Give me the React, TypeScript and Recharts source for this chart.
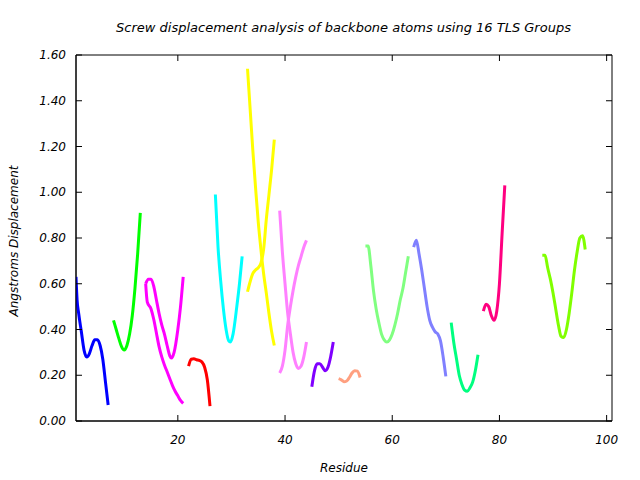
import React from "react";
import { LineChart, Line, XAxis, YAxis, ReferenceArea } from "recharts";

// one pair of arrays per TLS group (residue, screw displacement in Å)
const blueRes = [1, 1.2, 1.5, 2, 2.5, 3, 3.5, 4, 4.5, 5, 5.5, 6, 6.5, 7];
const blueVal = [0.63, 0.53, 0.47, 0.39, 0.31, 0.28, 0.295, 0.33, 0.355, 0.355, 0.33, 0.27, 0.17, 0.07];

const greenRes = [8, 8.5, 9, 9.5, 10, 10.5, 11, 11.5, 12, 12.5, 13];
const greenVal = [0.44, 0.4, 0.36, 0.325, 0.31, 0.33, 0.38, 0.46, 0.58, 0.73, 0.91];

const magentaRes = [14, 14.5, 15, 15.5, 16, 16.5, 17, 17.5, 18, 18.5, 18.8, 19.3, 20, 20.5, 21];
const magentaVal = [0.6, 0.62, 0.62, 0.59, 0.53, 0.47, 0.42, 0.38, 0.33, 0.285, 0.275, 0.3, 0.4, 0.5, 0.63];
const magentaRes2 = [14, 14.3, 15, 15.5, 16, 16.5, 17, 17.5, 18, 18.5, 19, 19.5, 20, 20.5, 21];
const magentaVal2 = [0.6, 0.52, 0.49, 0.445, 0.385, 0.325, 0.28, 0.245, 0.215, 0.185, 0.155, 0.13, 0.11, 0.09, 0.077];

const redRes = [22, 22.5, 23, 23.5, 24, 24.5, 25, 25.5, 26];
const redVal = [0.24, 0.27, 0.272, 0.268, 0.265, 0.258, 0.235, 0.18, 0.065];

const cyanRes = [27, 27.5, 28, 28.5, 29, 29.5, 29.8, 30.3, 31, 31.5, 32];
const cyanVal = [0.99, 0.76, 0.61, 0.49, 0.4, 0.35, 0.345, 0.38, 0.5, 0.6, 0.72];

const yellowRes = [33, 33.5, 34, 34.5, 35, 35.5, 36, 36.5, 37, 37.5, 38];
const yellowVal = [1.54, 1.36, 1.18, 1.02, 0.87, 0.75, 0.645, 0.56, 0.47, 0.39, 0.33];
const yellowVal2 = [0.565, 0.61, 0.645, 0.66, 0.67, 0.69, 0.75, 0.88, 0.99, 1.1, 1.23];

const pinkRes = [39, 39.5, 40, 40.5, 41, 41.5, 42, 42.5, 43, 43.5, 44];
const pinkVal = [0.92, 0.74, 0.6, 0.47, 0.38, 0.3, 0.25, 0.23, 0.24, 0.28, 0.345];
const pinkVal2 = [0.21, 0.24, 0.31, 0.42, 0.5, 0.57, 0.63, 0.68, 0.72, 0.76, 0.79];

const purpleRes = [45, 45.5, 46, 46.5, 47, 47.5, 48, 48.5, 49];
const purpleVal = [0.15, 0.22, 0.25, 0.25, 0.235, 0.22, 0.235, 0.28, 0.345];

const salmonRes = [50, 50.5, 51, 51.5, 52, 52.5, 53, 53.5, 54];
const salmonVal = [0.185, 0.18, 0.172, 0.175, 0.19, 0.21, 0.22, 0.218, 0.19];

const lgreenRes = [55, 55.5, 56, 56.5, 57, 57.5, 58, 58.5, 59, 59.5, 60, 60.5, 61, 61.5, 62, 62.5, 63];
const lgreenVal = [0.765, 0.765, 0.68, 0.57, 0.49, 0.43, 0.38, 0.355, 0.345, 0.355, 0.38, 0.42, 0.47, 0.53, 0.58, 0.65, 0.72];

const lblueRes = [64, 64.5, 65, 65.5, 66, 66.5, 67, 67.5, 68, 68.5, 69, 69.5, 70];
const lblueVal = [0.76, 0.79, 0.73, 0.66, 0.58, 0.5, 0.44, 0.41, 0.39, 0.38, 0.35, 0.28, 0.195];

const springRes = [71, 71.5, 72, 72.5, 73, 73.5, 74, 74.5, 75, 75.5, 76];
const springVal = [0.43, 0.34, 0.27, 0.2, 0.16, 0.135, 0.13, 0.145, 0.17, 0.22, 0.29];

const dpinkRes = [77, 77.5, 78, 78.5, 79, 79.5, 80, 80.5, 81];
const dpinkVal = [0.48, 0.51, 0.5, 0.46, 0.44, 0.48, 0.6, 0.82, 1.03];

const chartRes = [88, 88.5, 89, 89.5, 90, 90.5, 91, 91.5, 92, 92.5, 93, 93.5, 94, 94.5, 95, 95.5, 96];
const chartVal = [0.725, 0.725, 0.67, 0.62, 0.56, 0.49, 0.42, 0.37, 0.365, 0.4, 0.47, 0.56, 0.66, 0.74, 0.8, 0.81, 0.75];

const xTicks = [20, 40, 60, 80, 100];
const yTicks = [0, 0.2, 0.4, 0.6, 0.8, 1.0, 1.2, 1.4, 1.6];

const toPoints = (res: number[], val: number[]) => res.map((r, i) => ({ r, v: val[i] }));

const curves = [
  { color: "#0000ff", data: toPoints(blueRes, blueVal) },
  { color: "#00ff00", data: toPoints(greenRes, greenVal) },
  { color: "#ff00ff", data: toPoints(magentaRes, magentaVal) },
  { color: "#ff00ff", data: toPoints(magentaRes2, magentaVal2) },
  { color: "#ff0000", data: toPoints(redRes, redVal) },
  { color: "#00ffff", data: toPoints(cyanRes, cyanVal) },
  { color: "#ffff00", data: toPoints(yellowRes, yellowVal) },
  { color: "#ffff00", data: toPoints(yellowRes, yellowVal2) },
  { color: "#ff80ff", data: toPoints(pinkRes, pinkVal) },
  { color: "#ff80ff", data: toPoints(pinkRes, pinkVal2) },
  { color: "#8000ff", data: toPoints(purpleRes, purpleVal) },
  { color: "#ffa080", data: toPoints(salmonRes, salmonVal) },
  { color: "#80ff80", data: toPoints(lgreenRes, lgreenVal) },
  { color: "#8080ff", data: toPoints(lblueRes, lblueVal) },
  { color: "#00ff80", data: toPoints(springRes, springVal) },
  { color: "#ff0080", data: toPoints(dpinkRes, dpinkVal) },
  { color: "#80ff00", data: toPoints(chartRes, chartVal) },
];

// plot frame in pixels
const LEFT = 76;
const RIGHT = 612;
const TOP = 55;
const BOTTOM = 421;
const TICK = 6;

const FONT = "'DejaVu Sans', sans-serif";
const textStyle = { fontFamily: FONT, fontStyle: "italic" as const, fontSize: 12, fill: "#000" };

// gnuplot-style ticks: pointing inward, mirrored on the opposite side
const XTick = ({ x, payload }: any) => (
  <g>
    <line x1={x} x2={x} y1={BOTTOM} y2={BOTTOM - TICK} stroke="#000" />
    <line x1={x} x2={x} y1={TOP} y2={TOP + TICK} stroke="#000" />
    <text x={x} y={BOTTOM + 23} textAnchor="middle" style={textStyle}>
      {payload.value}
    </text>
  </g>
);

const YTick = ({ y, payload }: any) => (
  <g>
    <line x1={LEFT} x2={LEFT + TICK} y1={y} y2={y} stroke="#000" />
    <line x1={RIGHT} x2={RIGHT - TICK} y1={y} y2={y} stroke="#000" />
    <text x={LEFT - 10} y={y + 4} textAnchor="end" style={textStyle}>
      {Number(payload.value).toFixed(2)}
    </text>
  </g>
);

export default function App() {
  return (
    <div style={{ position: "absolute", left: 0, top: 0, width: 640, height: 480, background: "#fff" }}>
      <div
        style={{
          position: "absolute",
          left: 0,
          width: 687,
          top: 20,
          textAlign: "center",
          whiteSpace: "nowrap",
          fontFamily: FONT,
          fontStyle: "italic",
          fontSize: 13,
        }}
      >
        Screw displacement analysis of backbone atoms using 16 TLS Groups
      </div>
      <div
        style={{
          position: "absolute",
          left: 14,
          top: 241,
          transform: "translate(-50%, -50%) rotate(-90deg)",
          whiteSpace: "nowrap",
          fontFamily: FONT,
          fontStyle: "italic",
          fontSize: 12,
        }}
      >
        Angstroms Displacement
      </div>
      <LineChart
        width={640}
        height={480}
        margin={{ top: TOP, right: 640 - RIGHT, bottom: 480 - BOTTOM - 30, left: LEFT - 60 }}
      >
        <XAxis
          xAxisId="b"
          type="number"
          dataKey="r"
          domain={[1, 101]}
          allowDataOverflow
          ticks={xTicks}
          interval={0}
          height={30}
          tickLine={false}
          axisLine={{ stroke: "#000" }}
          tick={<XTick />}
          label={{ value: "Residue", position: "bottom", offset: 12, style: textStyle }}
        />
        <YAxis
          yAxisId="l"
          type="number"
          domain={[0, 1.6]}
          ticks={yTicks}
          interval={0}
          width={60}
          tickLine={false}
          axisLine={{ stroke: "#000" }}
          tick={<YTick />}
        />
        <ReferenceArea
          xAxisId="b"
          yAxisId="l"
          x1={1}
          x2={101}
          y1={0}
          y2={1.6}
          fill="none"
          stroke="#000"
          strokeWidth={1}
          ifOverflow="visible"
        />
        {curves.map((c, i) => (
          <Line
            key={i}
            data={c.data}
            dataKey="v"
            xAxisId="b"
            yAxisId="l"
            type="monotone"
            stroke={c.color}
            strokeWidth={3}
            dot={false}
            activeDot={false}
            isAnimationActive={false}
          />
        ))}
      </LineChart>
    </div>
  );
}
